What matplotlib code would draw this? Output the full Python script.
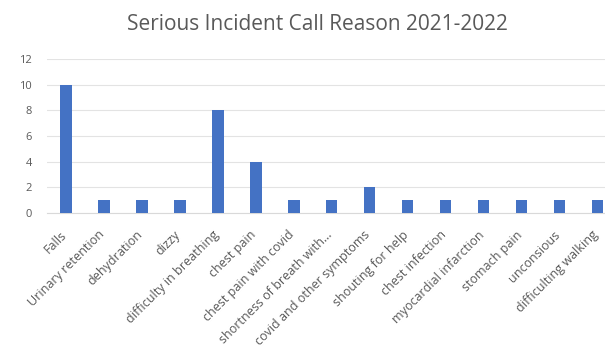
import matplotlib
matplotlib.use("Agg")
import matplotlib.pyplot as plt
import matplotlib.transforms as mtransforms
import numpy as np

reasons = ["Falls", "Urinary retention", "dehydration", "dizzy",
           "difficulty in breathing", "chest pain", "chest pain with covid",
           "shortness of breath with...", "covid and other symptoms",
           "shouting for help", "chest infection", "myocardial infarction",
           "stomach pain", "unconsious", "difficulting walking"]
counts = [10, 1, 1, 1, 8, 4, 1, 1, 2, 1, 1, 1, 1, 1, 1]
yticks = [0, 2, 4, 6, 8, 10, 12]

plt.rcParams['font.family'] = ['Open Sans', 'DejaVu Sans']
grey = "#595959"

fig = plt.figure(figsize=(6.05, 3.52), dpi=100)
ax = fig.add_axes([0.078, 0.395, 0.922, 0.437])

x = np.arange(len(reasons))
ax.bar(x, counts, width=0.3, color="#4472C4", zorder=3)

ax.set_ylim(0, 12)
ax.set_yticks(yticks)
ax.set_xlim(-0.5, 14.2)
ax.set_xticks(x)
ax.set_xticklabels(reasons, rotation=45, ha="right", rotation_mode="anchor",
                   fontsize=9, color=grey)
ax.tick_params(axis="y", labelsize=8, labelcolor=grey, length=0, pad=11)
ax.tick_params(axis="x", length=0, pad=11)
# nudge labels left so the last one stays inside the figure
shift = mtransforms.ScaledTranslation(-6 / 100, 0, fig.dpi_scale_trans)
for lab in ax.get_xticklabels():
    lab.set_transform(lab.get_transform() + shift)
ax.grid(axis="y", color="#e3e3e3", linewidth=0.8, zorder=0)
for s in ["top", "right", "left"]:
    ax.spines[s].set_visible(False)
ax.spines["bottom"].set_color("#d9d9d9")

fig.text(0.525, 0.93, "Serious Incident Call Reason 2021-2022", ha="center",
         va="center", fontsize=15, color=grey)

fig.savefig("out.png", dpi=100)
